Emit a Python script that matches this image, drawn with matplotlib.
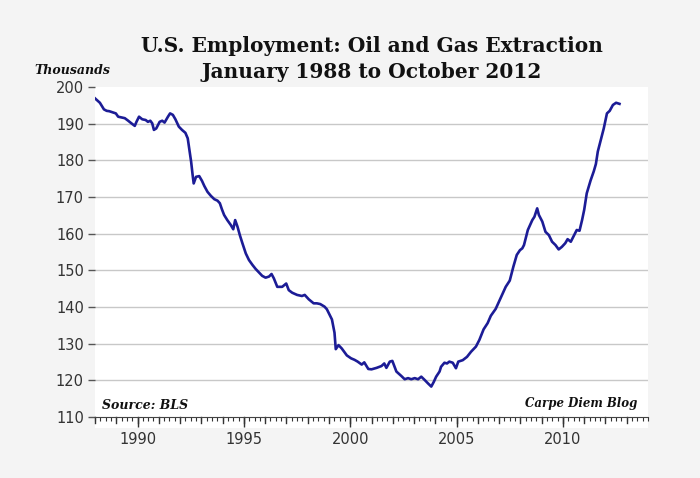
import matplotlib.pyplot as plt
from matplotlib.ticker import MultipleLocator
from matplotlib.patches import Rectangle

# time (decimal year) and employment (thousands)
years = [1988.00, 1988.23, 1988.42, 1988.55, 1988.67, 1988.82, 1988.98, 1989.09,
         1989.25, 1989.40, 1989.56, 1989.71, 1989.87, 1989.95, 1990.07, 1990.22,
         1990.38, 1990.49, 1990.60, 1990.69, 1990.77, 1990.88, 1991.04, 1991.16,
         1991.27, 1991.43, 1991.53, 1991.66, 1991.78, 1991.94, 1992.09, 1992.25,
         1992.36, 1992.44, 1992.52, 1992.59, 1992.64, 1992.75, 1992.90, 1993.03,
         1993.14, 1993.29, 1993.45, 1993.61, 1993.76, 1993.87, 1993.97, 1994.07,
         1994.22, 1994.38, 1994.50, 1994.59, 1994.70, 1994.81, 1994.93, 1995.09,
         1995.24, 1995.40, 1995.55, 1995.71, 1995.86, 1996.02, 1996.18, 1996.30,
         1996.41, 1996.57, 1996.80, 1996.99, 1997.11, 1997.27, 1997.50, 1997.73,
         1997.86, 1998.05, 1998.28, 1998.43, 1998.59, 1998.79, 1998.90, 1999.02,
         1999.14, 1999.26, 1999.32, 1999.45, 1999.60, 1999.84, 2000.04, 2000.20,
         2000.35, 2000.54, 2000.66, 2000.85, 2001.00, 2001.24, 2001.47, 2001.60,
         2001.70, 2001.86, 2001.98, 2002.17, 2002.40, 2002.56, 2002.72, 2002.87,
         2003.03, 2003.19, 2003.34, 2003.50, 2003.65, 2003.81, 2003.93, 2004.04,
         2004.20, 2004.27, 2004.43, 2004.55, 2004.66, 2004.82, 2004.97, 2005.08,
         2005.29, 2005.49, 2005.68, 2005.91, 2006.07, 2006.27, 2006.46, 2006.61,
         2006.84, 2007.08, 2007.31, 2007.50, 2007.67, 2007.83, 2007.98, 2008.09,
         2008.17, 2008.35, 2008.56, 2008.66, 2008.79, 2008.87, 2009.03, 2009.18,
         2009.34, 2009.49, 2009.65, 2009.80, 2009.95, 2010.11, 2010.22, 2010.37,
         2010.53, 2010.65, 2010.78, 2010.90, 2011.00, 2011.12, 2011.30, 2011.45,
         2011.55, 2011.64, 2011.76, 2011.92, 2012.07, 2012.20, 2012.35, 2012.50,
         2012.66]
jobs = [196.9, 195.7, 193.9, 193.5, 193.4, 193.1, 192.8, 191.9,
        191.7, 191.5, 190.8, 190.1, 189.4, 190.5, 191.9, 191.2,
        191.0, 190.5, 190.8, 190.1, 188.3, 188.7, 190.5, 190.8,
        190.3, 191.9, 192.8, 192.4, 191.2, 189.2, 188.3, 187.5,
        186.0, 182.8, 179.6, 176.0, 173.7, 175.5, 175.7, 174.4,
        173.0, 171.4, 170.3, 169.4, 169.0, 168.3, 166.6, 165.1,
        163.7, 162.4, 161.2, 163.7, 161.9, 159.6, 157.4, 154.6,
        152.8, 151.5, 150.4, 149.4, 148.5, 148.0, 148.3, 149.0,
        147.8, 145.5, 145.5, 146.4, 144.6, 143.9, 143.3, 143.0,
        143.3, 142.1, 141.0, 141.0, 140.8, 140.1, 139.4, 138.0,
        136.6, 133.0, 128.5, 129.6, 128.7, 126.8, 126.0, 125.6,
        125.1, 124.3, 124.9, 123.1, 123.0, 123.4, 123.9, 124.6,
        123.4, 125.1, 125.3, 122.4, 121.2, 120.3, 120.6, 120.3,
        120.6, 120.3, 121.0, 120.1, 119.2, 118.3, 119.6, 121.0,
        122.4, 123.7, 124.8, 124.6, 125.1, 124.8, 123.3, 125.1,
        125.5, 126.4, 127.8, 129.2, 131.0, 133.9, 135.6, 137.6,
        139.5, 142.6, 145.5, 147.2, 151.0, 154.2, 155.5, 156.0,
        156.9, 161.0, 163.7, 164.6, 166.9, 165.1, 163.3, 160.5,
        159.6, 157.8, 156.9, 155.7, 156.4, 157.4, 158.5, 157.8,
        159.6, 161.0, 160.8, 163.7, 166.5, 171.0, 174.5, 177.0,
        179.0, 182.4, 185.1, 188.7, 192.8, 193.5, 195.1, 195.7,
        195.4]

year_ticks = [1990, 1995, 2000, 2005, 2010]
y_ticks = list(range(110, 201, 10))

tick_font = ['Liberation Sans Narrow', 'DejaVu Sans']
serif_font = ['DejaVu Serif']

fig = plt.figure(figsize=(7, 4.78), dpi=100, facecolor='#f4f4f4')

# white strip under the axis where the ticks hang
fig.patches.append(Rectangle((95/700, 50/478), 553/700, 12/478,
                             transform=fig.transFigure, facecolor='white',
                             edgecolor='none', zorder=-5))

ax = fig.add_axes([95/700, 61/478, 553/700, 330/478])
ax.set_facecolor('white')

ax.plot(years, jobs, color='#1c1c96', lw=1.9, solid_joinstyle='round')

ax.set_xlim(1988, 2014)
ax.set_ylim(110, 200)

# gridlines
for v in y_ticks[1:-1]:
    ax.axhline(v, color='#c8c8c8', lw=1, zorder=0)

ax.set_yticks(y_ticks)
ax.set_xticks(year_ticks)
ax.xaxis.set_minor_locator(MultipleLocator(0.25))
ax.tick_params(axis='y', length=5, width=1, color='#555555', pad=3,
               labelsize=10.5, labelcolor='#333333')
ax.tick_params(axis='x', which='major', length=7, width=1, color='#333333',
               pad=4, labelsize=10.5, labelcolor='#333333')
ax.tick_params(axis='x', which='minor', length=3, width=0.8, color='#333333')
for lab in ax.get_xticklabels() + ax.get_yticklabels():
    lab.set_family(tick_font)

# unlabeled year ticks between the labeled ones
for yr in range(1988, 2014):
    ax.plot([yr, yr], [0, -0.018], transform=ax.get_xaxis_transform(),
            color='#333333', lw=1, clip_on=False)

for s in ['top', 'right', 'left']:
    ax.spines[s].set_visible(False)
ax.spines['bottom'].set_color('#444444')
ax.spines['bottom'].set_linewidth(0.8)

fig.text(372/700, 1 - 46/478, 'U.S. Employment: Oil and Gas Extraction',
         ha='center', va='center', fontsize=14.5, fontweight='bold',
         family=serif_font, color='#111111')
fig.text(372/700, 1 - 72/478, 'January 1988 to October 2012',
         ha='center', va='center', fontsize=14.5, fontweight='bold',
         family=serif_font, color='#111111')
fig.text(72/700, 1 - 71/478, 'Thousands', ha='center', va='center',
         fontsize=9, fontweight='bold', style='italic', family=serif_font,
         color='#111111')

ax.text(0.012, 0.035, 'Source: BLS', transform=ax.transAxes, ha='left',
        va='center', fontsize=9, fontweight='bold', style='italic',
        family=serif_font, color='#111111')
ax.text(0.98, 0.04, 'Carpe Diem Blog', transform=ax.transAxes, ha='right',
        va='center', fontsize=8.5, fontweight='bold', style='italic',
        family=serif_font, color='#111111')

fig.savefig('out.png', dpi=100, facecolor=fig.get_facecolor())
